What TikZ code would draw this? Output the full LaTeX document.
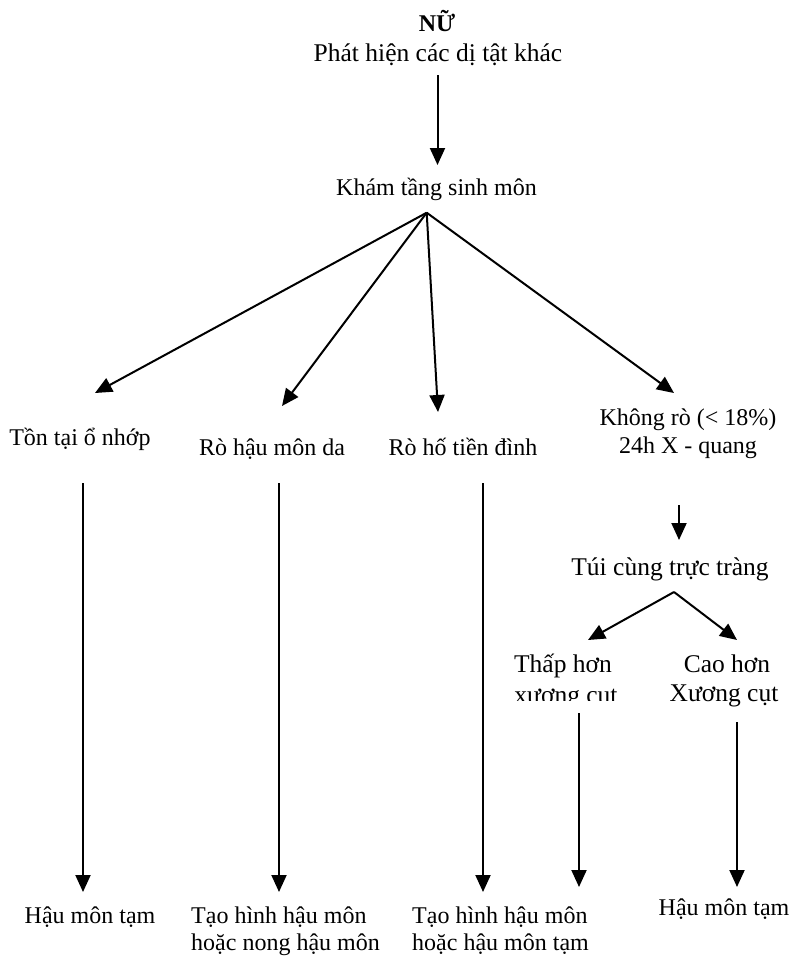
\documentclass[tikz,border=0pt]{standalone}
\usepackage{fontspec}
\setmainfont{Liberation Serif}
\usetikzlibrary{arrows.meta}
\begin{document}
\begin{tikzpicture}[x=1pt,y=-1pt,
  lbl/.style={inner sep=0pt,anchor=base,font=\fontsize{24}{28}\selectfont},
  lbllarge/.style={lbl,font=\fontsize{25.5}{30}\selectfont},
  lblleft/.style={lbl,anchor=base west},
  flow/.style={line width=2pt,-{Triangle[length=17pt,width=15pt]}}]
\useasboundingbox[fill=white] (0,0) rectangle (793,958);

% headings
\node[lbl,font=\fontsize{24}{28}\selectfont\bfseries] (nu) at (437,32) {NỮ};
\node[lbllarge] (phat) at (438,62) {Phát hiện các dị tật khác};
\node[lbl] (kham) at (436.5,195) {Khám tầng sinh môn};

% first level
\node[lbl] (tontai) at (80,445) {Tồn tại ổ nhớp};
\node[lbl] (rohmd) at (272,455) {Rò hậu môn da};
\node[lbl] (rohtd) at (463,455) {Rò hố tiền đình};
\node[lbl] (khongro) at (688,425) {Không rò (< 18\%)};
\node[lbl] (xquang) at (688,453) {24h X - quang};

% rectal pouch branch
\node[lbllarge] (tui) at (670,575) {Túi cùng trực tràng};
\node[lbllarge] (thap) at (563,672) {Thấp hơn};
\begin{scope}
  \clip (490,680) rectangle (650,700);
  \node[lbllarge] (xuong1) at (566,703) {xương cụt};
\end{scope}
\node[lbllarge] (cao) at (727,672) {Cao hơn};
\node[lbllarge] (xuong2) at (724,701) {Xương cụt};

% outcomes
\node[lbl] (hmt1) at (90,923) {Hậu môn tạm};
\node[lblleft] (tao1) at (191,923) {Tạo hình hậu môn};
\node[lblleft] (hoac1) at (191,950) {hoặc nong hậu môn};
\node[lblleft] (tao2) at (412,923) {Tạo hình hậu môn};
\node[lblleft] (hoac2) at (412,950) {hoặc hậu môn tạm};
\node[lbl] (hmt2) at (724,915) {Hậu môn tạm};

% connector end points
\coordinate (p0) at (437.5,75);
\coordinate (p1) at (437.5,165);
\coordinate (apex) at (426.7,212.7);
\coordinate (t1) at (95,393);
\coordinate (t2) at (282,406);
\coordinate (t3) at (438,412);
\coordinate (t4) at (674,393);
\coordinate (v1s) at (83,483);   \coordinate (v1e) at (83,892);
\coordinate (v2s) at (279,483);  \coordinate (v2e) at (279,892);
\coordinate (v3s) at (483,483);  \coordinate (v3e) at (483,892);
\coordinate (s0) at (679,505);   \coordinate (s1) at (679,540);
\coordinate (fork) at (674,592);
\coordinate (fl) at (588,640);   \coordinate (fr) at (737,640);
\coordinate (v4s) at (579,713);  \coordinate (v4e) at (579,887);
\coordinate (v5s) at (737,722);  \coordinate (v5e) at (737,887);

% connectors
\draw[flow] (p0) -- (p1);
\draw[flow] (apex) -- (t1);
\draw[flow] (apex) -- (t2);
\draw[flow] (apex) -- (t3);
\draw[flow] (apex) -- (t4);
\draw[flow] (v1s) -- (v1e);
\draw[flow] (v2s) -- (v2e);
\draw[flow] (v3s) -- (v3e);
\draw[flow] (s0) -- (s1);
\draw[flow] (fork) -- (fl);
\draw[flow] (fork) -- (fr);
\draw[flow] (v4s) -- (v4e);
\draw[flow] (v5s) -- (v5e);
\end{tikzpicture}
\end{document}
